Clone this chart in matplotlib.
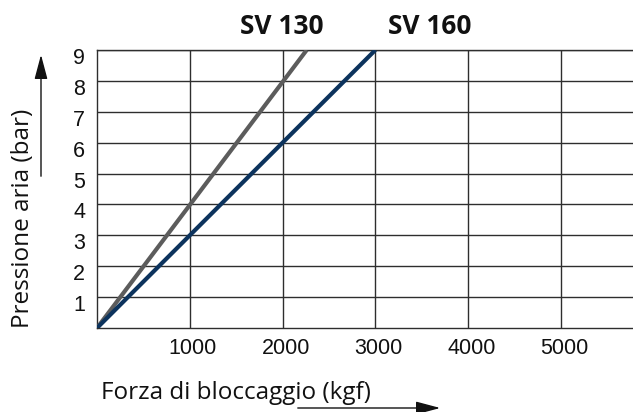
import matplotlib
matplotlib.use("Agg")
import matplotlib.pyplot as plt
import matplotlib.transforms as mtransforms
from matplotlib.patches import FancyArrowPatch

# Data
series_names = ["SV 130", "SV 160"]
sv130_force = [0, 2260]
sv130_pressure = [0, 9]
sv160_force = [0, 3000]
sv160_pressure = [0, 9]
x_ticks = [1000, 2000, 3000, 4000, 5000]
x_tick_labels = ["1000", "2000", "3000", "4000", "5000"]
y_ticks = [1, 2, 3, 4, 5, 6, 7, 8, 9]
y_tick_labels = ["1", "2", "3", "4", "5", "6", "7", "8", "9"]
x_label = "Forza di bloccaggio (kgf)"
y_label = "Pressione aria (bar)"

W, H = 633, 412
fig = plt.figure(figsize=(W / 100, H / 100), dpi=100)

def fx(px):
    return px / W

def fy(py):
    return (H - py) / H

ax = fig.add_axes([fx(97), fy(328), fx(633) - fx(97), fy(50) - fy(328)])
ax.set_xlim(0, 5776)
ax.set_ylim(0, 9)

grid_color = "#2e2e2e"
for v in x_ticks:
    ax.axvline(v, color=grid_color, lw=1.0, zorder=1)
for v in y_ticks:
    ax.axhline(v, color=grid_color, lw=1.0, zorder=1)

ax.plot(sv130_force, sv130_pressure, color="#5c5c5c", lw=3.0,
        solid_capstyle="butt", zorder=3)
ax.plot(sv160_force, sv160_pressure, color="#0c335d", lw=3.0,
        solid_capstyle="butt", zorder=3)

for s in ["left", "bottom", "top"]:
    ax.spines[s].set_color(grid_color)
    ax.spines[s].set_linewidth(1.0)
ax.spines["right"].set_visible(False)

ax.set_xticks(x_ticks)
ax.set_xticklabels(x_tick_labels, family="Liberation Sans", fontsize=15.5,
                   color="#111111")
ax.set_yticks(y_ticks)
ax.set_yticklabels(y_tick_labels, family="Liberation Sans", fontsize=15.5,
                   color="#111111")
ax.tick_params(axis="both", length=0)
ax.tick_params(axis="x", pad=7)
ax.tick_params(axis="y", pad=8.5)

# shift tick labels slightly
offset_y = mtransforms.ScaledTranslation(0, -6 / 100, fig.dpi_scale_trans)
for lab in ax.get_yticklabels():
    lab.set_transform(lab.get_transform() + offset_y)
offset_x = mtransforms.ScaledTranslation(3 / 100, 0, fig.dpi_scale_trans)
for lab in ax.get_xticklabels():
    lab.set_transform(lab.get_transform() + offset_x)

# series titles
fig.text(fx(282), fy(26), series_names[0], ha="center", va="center",
         family="Open Sans", fontweight="bold", fontsize=19, color="#111111")
fig.text(fx(430), fy(26), series_names[1], ha="center", va="center",
         family="Open Sans", fontweight="bold", fontsize=19, color="#111111")

# axis labels
fig.text(fx(236), fy(399), x_label, ha="center", va="baseline",
         family="Open Sans", fontsize=17.5, color="#111111")
fig.text(fx(23), fy(218), y_label, ha="center", va="center", rotation=90,
         family="Open Sans", fontsize=17.5, color="#111111")

# arrows
fig.patches.append(FancyArrowPatch(
    (fx(41), fy(179)), (fx(41), fy(52)), transform=fig.transFigure,
    arrowstyle="-|>,head_length=1.5,head_width=0.4", mutation_scale=10,
    color="#111111", lw=1.0))
fig.patches.append(FancyArrowPatch(
    (fx(295), fy(408)), (fx(443), fy(408)), transform=fig.transFigure,
    arrowstyle="-|>,head_length=1.5,head_width=0.4", mutation_scale=10,
    color="#111111", lw=1.0))

fig.savefig("out.png", dpi=100)
